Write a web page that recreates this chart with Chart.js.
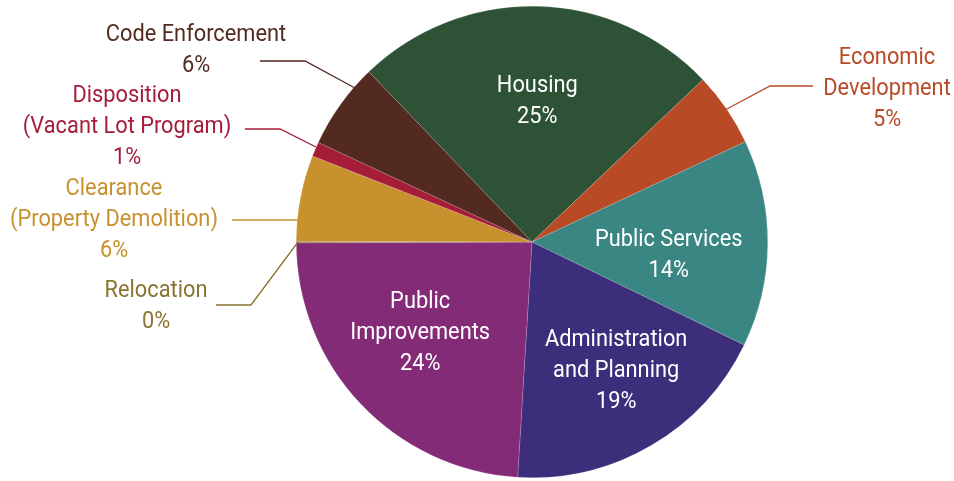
<!DOCTYPE html>
<html>
<head>
<meta charset="utf-8">
<script src="https://cdn.jsdelivr.net/npm/chart.js@4"></script>
<style>
  html, body { margin: 0; padding: 0; background: #fff; }
  #wrap { width: 954px; height: 481px; }
</style>
</head>
<body>
<div id="wrap"><canvas id="grafico"></canvas></div>
<script>
// datos del grafico
const categorias = ['Housing', 'Economic Development', 'Public Services', 'Administration and Planning',
    'Public Improvements', 'Relocation', 'Clearance (Property Demolition)',
    'Disposition (Vacant Lot Program)', 'Code Enforcement'];
const valores = [25.1, 5.1, 14.2, 18.8, 24.0, 0.1, 5.9, 1.0, 5.9];
const colores = ['#2d5235', '#b84a26', '#3a8683', '#3d2e7c', '#842b78', '#8b7433', '#c7922e', '#a61d39', '#522a1f'];

// lineas de cada etiqueta (texto)
const lineasEtiqueta = [
    ['Housing'], ['Economic', 'Development'], ['Public Services'], ['Administration', 'and Planning'],
    ['Public', 'Improvements'], ['Relocation'], ['Clearance', '(Property Demolition)'],
    ['Disposition', '(Vacant Lot Program)'], ['Code Enforcement']
];

// estilo de etiquetas: dentro (con ajuste) o fuera con linea guia
const estiloEtiqueta = [
    { dentro: true, r: 0.6, dx: 2, dy: 1 },
    { dentro: false, x: 887, y: 58, linea: [[813, 86], [770, 86], [725, 110]] },
    { dentro: true, r: 0.58, dx: 0, dy: 13 },
    { dentro: true, r: 0.64, dx: 8, dy: -1 },
    { dentro: true, r: 0.6, dx: -9, dy: -6 },
    { dentro: false, x: 156, y: 291, linea: [[216, 305], [251, 305], [298, 242]] },
    { dentro: false, x: 114, y: 189, linea: [[232, 220], [298, 220]] },
    { dentro: false, x: 127, y: 96, linea: [[245, 129], [280, 129], [316, 147]] },
    { dentro: false, x: 196, y: 35, linea: [[260, 61], [305, 61], [355, 88]] }
];

const FUENTE = 'Roboto, "Liberation Sans", sans-serif';
const ALTO_LINEA = 31;
const ESTRECHO = 0.89; // simula fuente condensada

function textoEstrecho(ctx, t, x, y) {
    ctx.save();
    ctx.translate(x, y);
    ctx.scale(ESTRECHO, 1);
    ctx.fillText(t, 0, 0);
    ctx.restore();
}

const etiquetasPlugin = {
    id: 'etiquetas',
    afterDatasetsDraw(chart) {
        const ctx = chart.ctx;
        const meta = chart.getDatasetMeta(0);
        ctx.save();
        ctx.font = '24.5px ' + FUENTE;
        ctx.textAlign = 'center';
        ctx.textBaseline = 'middle';

        meta.data.forEach((arc, i) => {
            const est = estiloEtiqueta[i];
            const textos = [...lineasEtiqueta[i], Math.round(valores[i]) + '%'];

            if (est.dentro) {
                const mid = (arc.startAngle + arc.endAngle) / 2;
                const r = arc.outerRadius * est.r;
                const cx = arc.x + Math.cos(mid) * r + est.dx;
                const cy = arc.y + Math.sin(mid) * r + est.dy;
                const y0 = cy - (textos.length - 1) * ALTO_LINEA / 2;
                ctx.fillStyle = '#ffffff';
                textos.forEach((t, k) => textoEstrecho(ctx, t, cx, y0 + k * ALTO_LINEA));
            } else {
                ctx.strokeStyle = colores[i];
                ctx.lineWidth = 1.3;
                ctx.beginPath();
                est.linea.forEach((p, k) => k ? ctx.lineTo(p[0], p[1]) : ctx.moveTo(p[0], p[1]));
                ctx.stroke();
                ctx.fillStyle = colores[i];
                textos.forEach((t, k) => textoEstrecho(ctx, t, est.x, est.y + k * ALTO_LINEA));
            }
        });
        ctx.restore();
    }
};

new Chart(document.getElementById('grafico'), {
    type: 'pie',
    data: {
        labels: categorias,
        datasets: [{
            data: valores,
            backgroundColor: colores,
            borderColor: 'rgba(255,255,255,0.3)',
            borderWidth: 0.5
        }]
    },
    options: {
        responsive: true,
        maintainAspectRatio: false,
        animation: false,
        rotation: -43.8,
        layout: { padding: { left: 110, right: 0, top: 6, bottom: 3 } },
        plugins: {
            legend: { display: false },
            tooltip: { enabled: false }
        }
    },
    plugins: [etiquetasPlugin]
});
</script>
</body>
</html>
